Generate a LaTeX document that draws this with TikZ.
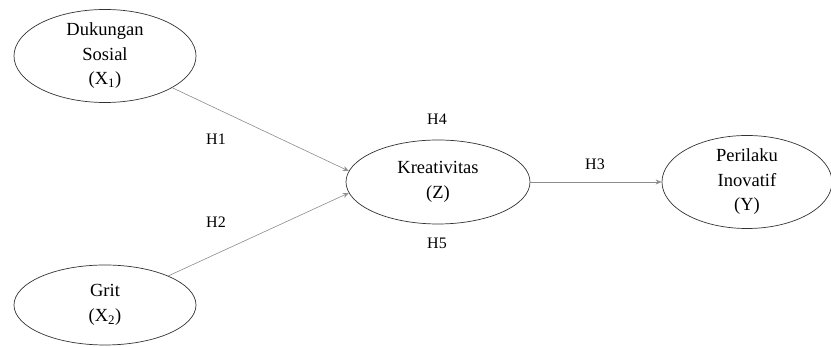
\documentclass[tikz,border=0pt]{standalone}
\usepackage{fontspec}
\setmainfont{Liberation Serif}
\usepackage{tikz}
\usetikzlibrary{arrows.meta,shapes.geometric}
\definecolor{edgegray}{RGB}{50,50,50}
\definecolor{pathgray}{RGB}{140,140,140}

\begin{document}
\begin{tikzpicture}[x=1pt,y=1pt,
  latent/.style={draw=edgegray,ellipse,line width=0.7pt,align=center,inner sep=0pt,
    minimum width=182pt,minimum height=84pt,font=\fontsize{18.5}{24.5}\selectfont},
  hyp/.style={font=\fontsize{16}{19}\selectfont},
  arr/.style={-{Stealth[length=6pt,width=5pt]},draw=pathgray,line width=0.6pt}]
\useasboundingbox (0,0) rectangle (831,347);
\node[latent] (dukungan) at (105,291) {Dukungan\\ Sosial\\ (X\textsubscript{1})};
\node[latent,minimum height=80pt] (grit) at (105,42) {Grit\\ (X\textsubscript{2})};
\node[latent,minimum width=184pt] (kreat) at (438,165) {Kreativitas\\ (Z)};
\node[latent,minimum width=170pt] (perilaku) at (747,165) {Perilaku\\ Inovatif\\ (Y)};
\node[hyp] (h1) at (216,208) {H1};
\node[hyp] (h2) at (216,125) {H2};
\node[hyp] (h3) at (595,183) {H3};
\node[hyp] (h4) at (437,228) {H4};
\node[hyp] (h5) at (437,104) {H5};
\draw[arr] (dukungan) -- (kreat.173);
\draw[arr] (grit) -- (kreat.187);
\draw[arr] (kreat) -- (perilaku);
\end{tikzpicture}
\end{document}
